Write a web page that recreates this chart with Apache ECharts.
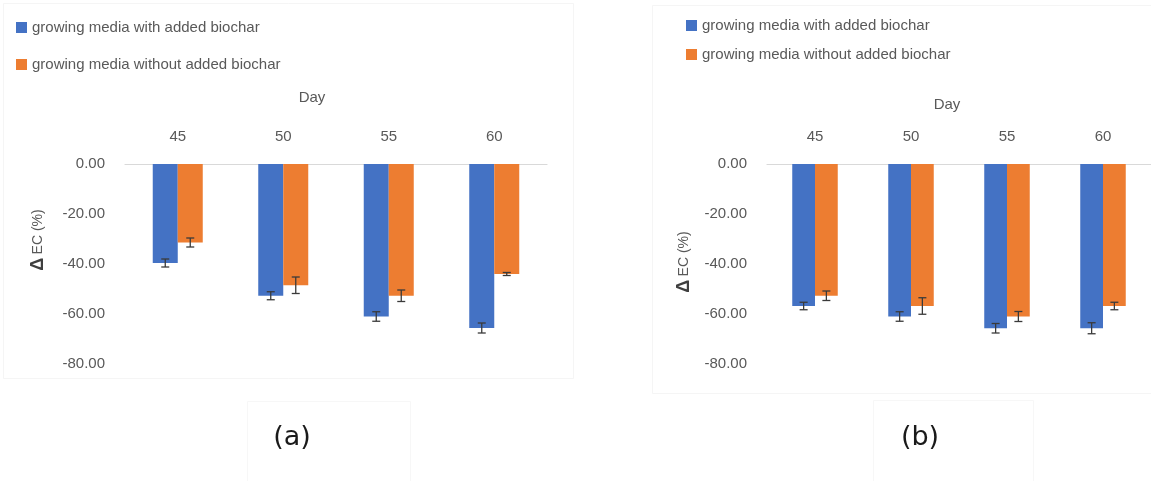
<!DOCTYPE html>
<html>
<head>
<meta charset="utf-8">
<title>ΔEC of growing media</title>
<script src="https://cdn.jsdelivr.net/npm/echarts@6/dist/echarts.min.js"></script>
<style>
  html, body { margin: 0; padding: 0; background: #ffffff; }
  #chart { width: 1151px; height: 481px; }
</style>
</head>
<body>
<div id="chart"></div>
<script>
// Sampling days (category axis)
const days = ['45', '50', '55', '60'];
const seriesNames = ['growing media with added biochar', 'growing media without added biochar'];

// Panel (a): ΔEC (%) and standard errors
const aWithBiochar = [-39.6, -52.7, -61.0, -65.6];
const aWithBiocharErr = [1.6, 1.6, 1.9, 2.0];
const aWithoutBiochar = [-31.4, -48.5, -52.7, -44.0];
const aWithoutBiocharErr = [1.8, 3.3, 2.3, 0.6];

// Panel (b): ΔEC (%) and standard errors
const bWithBiochar = [-56.8, -61.0, -65.7, -65.7];
const bWithBiocharErr = [1.5, 1.9, 1.9, 2.2];
const bWithoutBiochar = [-52.7, -56.8, -61.0, -56.8];
const bWithoutBiocharErr = [1.9, 3.3, 2.0, 1.5];

// Value axis ticks
const yMin = -80, yMax = 0, yStep = 20;

const BLUE = '#4472C4';
const ORANGE = '#ED7D31';
const TEXT = '#595959';
const FONT = '"Liberation Sans", Arial, sans-serif';
const BAR_RATIO = 0.237;

function errData(values, errs) {
  return values.map((v, i) => [i, v, errs[i]]);
}

// Error bar with caps, placed over the left (-1) or right (+1) bar of a group
function errorBarRenderer(side) {
  return function (params, api) {
    const idx = api.value(0), v = api.value(1), e = api.value(2);
    const c = api.coord([idx, v]);
    const band = api.size([1, 0])[0];
    const x = c[0] + side * band * BAR_RATIO / 2;
    const yTop = api.coord([idx, v + e])[1];
    const yBot = api.coord([idx, v - e])[1];
    const cap = 4;
    const style = { stroke: '#3a3a3a', lineWidth: 1.3 };
    return {
      type: 'group',
      children: [
        { type: 'line', shape: { x1: x, y1: yTop, x2: x, y2: yBot }, style },
        { type: 'line', shape: { x1: x - cap, y1: yTop, x2: x + cap, y2: yTop }, style },
        { type: 'line', shape: { x1: x - cap, y1: yBot, x2: x + cap, y2: yBot }, style }
      ]
    };
  };
}

function categoryAxis(gridIndex) {
  return {
    type: 'category',
    gridIndex,
    position: 'top',
    data: days,
    axisLine: { lineStyle: { color: '#d9d9d9', width: 1.2 } },
    axisTick: { show: false },
    axisLabel: { color: TEXT, fontSize: 15, fontFamily: FONT, margin: 20 }
  };
}

function valueAxis(gridIndex) {
  return {
    type: 'value',
    gridIndex,
    min: yMin, max: yMax, interval: yStep,
    axisLine: { show: false },
    axisTick: { show: false },
    splitLine: { show: false },
    axisLabel: {
      color: TEXT, fontSize: 15, fontFamily: FONT, margin: 20,
      formatter: v => v.toFixed(2)
    }
  };
}

function barSeries(name, data, axis) {
  return {
    name, type: 'bar', data,
    xAxisIndex: axis, yAxisIndex: axis,
    barWidth: (BAR_RATIO * 100) + '%', barGap: '0%',
    itemStyle: { color: name === seriesNames[0] ? BLUE : ORANGE }
  };
}

function errSeries(values, errs, axis, side) {
  return {
    type: 'custom', data: errData(values, errs),
    xAxisIndex: axis, yAxisIndex: axis,
    encode: { x: 0, y: 1 }, z: 5, silent: true,
    renderItem: errorBarRenderer(side)
  };
}

function legend(left, top, gap) {
  return {
    data: seriesNames, orient: 'vertical', left, top,
    icon: 'rect', itemWidth: 11, itemHeight: 11, itemGap: gap,
    textStyle: { color: TEXT, fontSize: 15, fontFamily: FONT }
  };
}

function label(text, x, y, size, color) {
  return {
    type: 'text', x, y, silent: true,
    style: { text, fill: color, font: size + 'px ' + FONT, align: 'center', verticalAlign: 'middle' }
  };
}

function yName(x, y) {
  return {
    type: 'text', x, y, rotation: Math.PI / 2, silent: true,
    style: {
      text: '{d|Δ} {t|EC (%)}', align: 'center', verticalAlign: 'middle',
      rich: {
        d: { fontSize: 18, fontFamily: FONT, fill: '#3f3f3f', fontWeight: 'bold' },
        t: { fontSize: 14, fontFamily: FONT, fill: TEXT }
      }
    }
  };
}

function frame(x, y, w, h, color) {
  return {
    type: 'rect', silent: true, z: -10,
    shape: { x, y, width: w, height: h },
    style: { fill: 'none', stroke: color, lineWidth: 1 }
  };
}

const chart = echarts.init(document.getElementById('chart'), null, { renderer: 'canvas' });
chart.setOption({
  backgroundColor: '#ffffff',
  animation: false,
  grid: [
    { left: 125, top: 164, width: 422, height: 200 },
    { left: 767, top: 164, width: 389, height: 200 }
  ],
  xAxis: [categoryAxis(0), categoryAxis(1)],
  yAxis: [valueAxis(0), valueAxis(1)],
  legend: [legend(11, 15, 22), legend(681, 13, 14)],
  series: [
    barSeries(seriesNames[0], aWithBiochar, 0),
    barSeries(seriesNames[1], aWithoutBiochar, 0),
    barSeries(seriesNames[0], bWithBiochar, 1),
    barSeries(seriesNames[1], bWithoutBiochar, 1),
    errSeries(aWithBiochar, aWithBiocharErr, 0, -1),
    errSeries(aWithoutBiochar, aWithoutBiocharErr, 0, 1),
    errSeries(bWithBiochar, bWithBiocharErr, 1, -1),
    errSeries(bWithoutBiochar, bWithoutBiocharErr, 1, 1)
  ],
  graphic: [
    frame(3.5, 3.5, 570, 375, '#f5f5f5'),
    frame(652.5, 5.5, 510, 388, '#f5f5f5'),
    frame(247.5, 401.5, 163, 90, '#f7f7f7'),
    frame(873.5, 400.5, 160, 90, '#f7f7f7'),
    label('Day', 312, 98, 15, TEXT),
    label('Day', 947, 105, 15, TEXT),
    yName(38, 240),
    yName(684, 262),
    {
      type: 'text', x: 292, y: 438, silent: true,
      style: { text: '(a)', fill: '#1a1a1a', font: '27px "DejaVu Sans", sans-serif', align: 'center', verticalAlign: 'middle' }
    },
    {
      type: 'text', x: 920, y: 438, silent: true,
      style: { text: '(b)', fill: '#1a1a1a', font: '27px "DejaVu Sans", sans-serif', align: 'center', verticalAlign: 'middle' }
    }
  ]
});
</script>
</body>
</html>
